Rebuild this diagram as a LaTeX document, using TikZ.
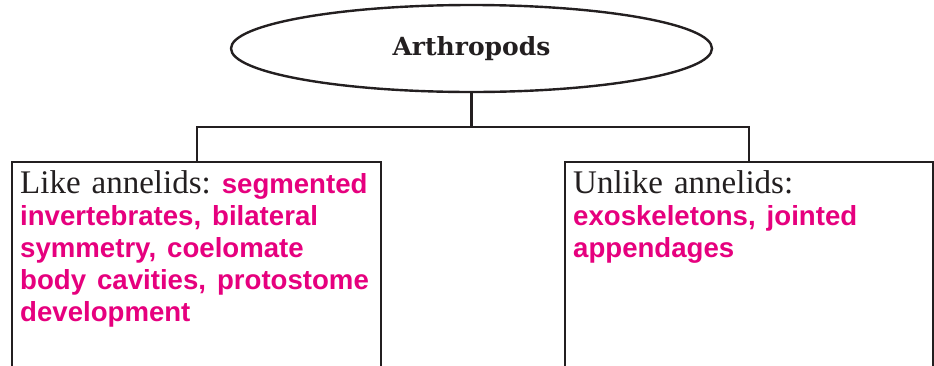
\documentclass[tikz,border=0pt]{standalone}
\usepackage{fontspec}
\usetikzlibrary{shapes.geometric}
\newfontfamily\pinkfont{Liberation Sans}
\newfontfamily\titlefont{DejaVu Serif}
\newfontfamily\bodyfont{Liberation Serif}
\definecolor{pinktxt}{RGB}{230,0,126}
\definecolor{ink}{RGB}{35,31,32}
\frenchspacing
\newcommand{\pk}[1]{{\color{pinktxt}\pinkfont\bfseries\fontsize{27.6}{32}\selectfont #1}}
\begin{document}
\begin{tikzpicture}[x=1pt,y=-1pt,
  conn/.style={draw=ink, line width=2.2pt},
  boxnode/.style={draw=ink, line width=2.4pt, minimum width=369pt, minimum height=230pt, anchor=north west, inner sep=0pt},
  txtnode/.style={anchor=base west, inner sep=0pt, text width=360pt, align=left, text=ink, font=\bodyfont\fontsize{33}{32}\selectfont\frenchspacing}]
\useasboundingbox (0,0) rectangle (934,365);
\clip (0,0) rectangle (934,365);
\fill[white] (0,0) rectangle (934,365);
\node[ellipse, draw=ink, line width=2.4pt, minimum width=481pt, minimum height=87pt, inner sep=0pt] (arth) at (471.5,48.5)
  {\titlefont\bfseries\fontsize{25}{28}\selectfont\color{ink}Arthropods};
\node[boxnode] (like) at (11,161) {};
\node[boxnode, minimum width=368pt] (unlike) at (564,161) {};
\node[txtnode] (liketxt) at (20,193) {Like annelids: \pk{segmented}\\
  \pk{invertebrates, bilateral}\\
  \pk{symmetry, coelomate}\\
  \pk{body cavities, protostome}\\
  \pk{development}};
\node[txtnode] (unliketxt) at (573,193) {Unlike annelids:\\
  \pk{exoskeletons, jointed}\\
  \pk{appendages}};
\coordinate (bus) at (471.5,127);
\draw[conn] (arth.south) -- (bus);
\draw[conn] (like.north) |- (bus) -| (unlike.north);
\end{tikzpicture}
\end{document}
